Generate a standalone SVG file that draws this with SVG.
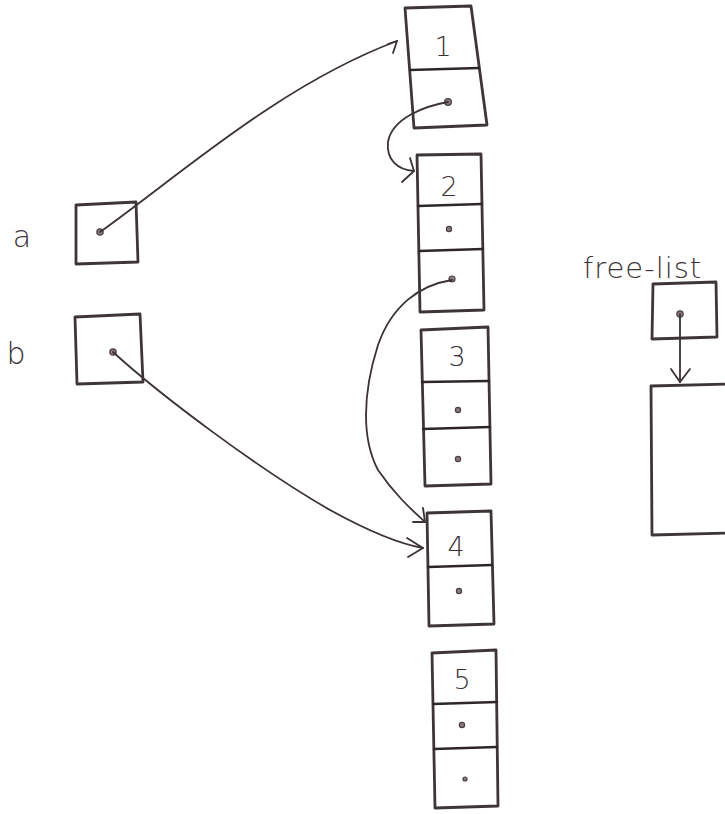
<svg xmlns="http://www.w3.org/2000/svg" width="725" height="814" viewBox="0 0 725 814">
<style>
.box{fill:none;stroke:#3e3539;stroke-width:2.8;stroke-linejoin:round;stroke-linecap:round}
.div{fill:none;stroke:#2e2729;stroke-width:2.4;stroke-linecap:round}
.dot{fill:#8a7a80;stroke:#4a3f44;stroke-width:1.2}
.lbl{font-family:"DejaVu Sans",sans-serif;fill:#3a3236;font-weight:300}
.num{font-family:"DejaVu Sans",sans-serif;fill:#3a3236;font-size:27px;text-anchor:middle;font-weight:300}
.con{fill:none;stroke:#3a3236;stroke-width:1.8;stroke-linecap:round;stroke-linejoin:round}
</style>
<rect width="725" height="814" fill="#ffffff"/>
<g id="ptr-a">
<text class="lbl" x="22" y="247" font-size="30" text-anchor="middle">a</text>
<polygon class="box" points="76,205 136,202 138,262 76,264"/>
<circle class="dot" cx="100" cy="232" r="3.2"/>
</g>
<g id="ptr-b">
<text class="lbl" x="16" y="364" font-size="30" text-anchor="middle">b</text>
<polygon class="box" points="75,317 140,314 143,382 77,384"/>
<circle class="dot" cx="113" cy="352" r="3.2"/>
</g>
<g id="cell-1">
<polygon class="box" points="405,8 471,6 487,125 414,128"/>
<line class="div" x1="410" y1="70" x2="479" y2="68"/>
<text class="num" x="443" y="56">1</text>
<circle class="dot" cx="448" cy="102" r="3.4"/>
</g>
<g id="cell-2">
<polygon class="box" points="417,155 481,154 484,310 420,312"/>
<line class="div" x1="418" y1="206" x2="482" y2="204"/>
<line class="div" x1="419" y1="251" x2="483" y2="249"/>
<text class="num" x="449" y="196">2</text>
<circle class="dot" cx="449" cy="229" r="2.6"/>
<circle class="dot" cx="452" cy="279" r="3"/>
</g>
<g id="cell-3">
<polygon class="box" points="421,330 488,327 491,484 425,486"/>
<line class="div" x1="422" y1="382" x2="489" y2="381"/>
<line class="div" x1="423" y1="429" x2="490" y2="427"/>
<text class="num" x="457" y="366">3</text>
<circle class="dot" cx="458" cy="410" r="2.6"/>
<circle class="dot" cx="458" cy="459" r="2.6"/>
</g>
<g id="cell-4">
<polygon class="box" points="427,513 491,511 494,624 429,626"/>
<line class="div" x1="428" y1="567" x2="492" y2="565"/>
<text class="num" x="456" y="556" font-size="24">4</text>
<circle class="dot" cx="459" cy="591" r="2.6"/>
</g>
<g id="cell-5">
<polygon class="box" points="432,653 496,650 498,806 435,808"/>
<line class="div" x1="433" y1="704" x2="497" y2="702"/>
<line class="div" x1="434" y1="749" x2="497" y2="747"/>
<text class="num" x="462" y="689">5</text>
<circle class="dot" cx="462" cy="725" r="2.6"/>
<circle class="dot" cx="465" cy="779" r="2"/>
</g>
<g id="free-list">
<text class="lbl" x="583" y="278" font-size="29" letter-spacing="1">free-list</text>
<polygon class="box" points="653,284 716,282 717,337 652,339"/>
<circle class="dot" cx="680" cy="314" r="3.2"/>
</g>
<g id="free-block">
<polygon class="box" points="651,386 728,384 728,533 652,535"/>
</g>
<g id="connectors">
<path class="con" d="M100,232 C180,175 280,85 397,41"/>
<path class="con" d="M388,44 L397,41 L393,53"/>
<path class="con" d="M448,102 C425,106 392,118 388,142 C386,160 398,170 414,171"/>
<path class="con" d="M402,182 L414,171 L410,158"/>
<path class="con" d="M452,280 C420,285 392,305 378,345 C362,395 362,440 378,470 C395,495 412,510 425,522"/>
<path class="con" d="M413,522 L425,522 L423,508"/>
<path class="con" d="M113,352 C160,395 260,470 330,510 C370,532 400,544 423,548"/>
<path class="con" d="M407,538 L423,548 L408,557"/>
<path class="con" d="M680,314 L680,382"/>
<path class="con" d="M671,369 L680,382 L690,369"/>
</g>
</svg>
